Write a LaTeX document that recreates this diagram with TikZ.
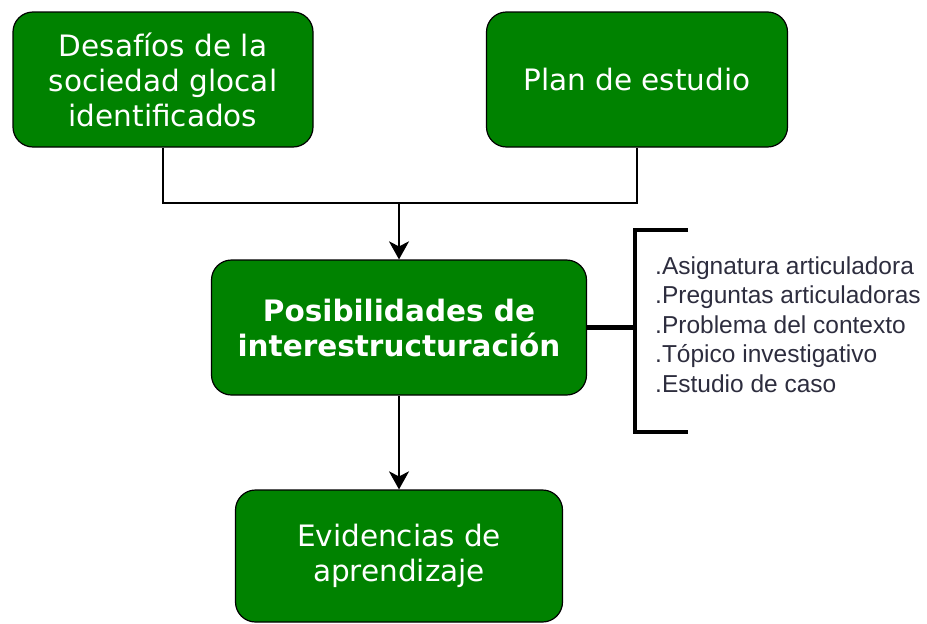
\documentclass[tikz,border=0pt]{standalone}
\usepackage{fontspec}
\setmainfont{DejaVu Sans}
\newfontfamily\listfont{Liberation Sans}
\usetikzlibrary{arrows.meta}
\definecolor{boxgreen}{RGB}{0,130,0}
\definecolor{listgray}{RGB}{45,45,62}
\begin{document}
\begin{tikzpicture}[x=1pt,y=-1pt,
    box/.style={draw=black,line width=1.2pt,fill=boxgreen,rounded corners=20pt,
      text=white,align=center,font=\fontsize{29.5}{35}\selectfont,inner sep=0pt},
    link/.style={line width=1.8pt},
    brace/.style={line width=4.5pt},
    item/.style={anchor=base west,inner sep=0pt,text=listgray,
      font=\listfont\fontsize{24.5}{28}\selectfont}]
    \useasboundingbox (0,0) rectangle (927,624);
    \node[box,minimum width=300pt,minimum height=135pt] (desafios) at (163,79.5)
      {Desafíos de la\\sociedad glocal\\identificados};
    \node[box,minimum width=301pt,minimum height=135pt] (plan) at (637,79.5)
      {Plan de estudio};
    \node[box,minimum width=375pt,minimum height=135pt] (posib) at (399,327.5)
      {\bfseries Posibilidades de\\\bfseries interestructuración};
    \node[box,minimum width=327pt,minimum height=132pt] (evid) at (399,556)
      {Evidencias de\\aprendizaje};
    \coordinate (join) at (399,203);
    \draw[link] (desafios.south) |- (join) -| (plan.south);
    \draw[link,-{Stealth[length=18pt,width=20pt,inset=5pt]}] (join) -- (posib.north);
    \draw[link,-{Stealth[length=18pt,width=20pt,inset=5pt]}] (posib.south) -- (evid.north);
    % bracket with the list
    \coordinate (brmid) at (635,327.5);
    \draw[brace] (posib.east) -- (brmid);
    \draw[brace] (688,230) -- (635,230) -- (635,432) -- (688,432);
    \foreach \txt [count=\i from 0] in {Asignatura articuladora,Preguntas articuladoras,
      Problema del contexto,Tópico investigativo,Estudio de caso}
      \node[item] (item\i) at (655,274+29.5*\i) {.\txt};
  \end{tikzpicture}
\end{document}
